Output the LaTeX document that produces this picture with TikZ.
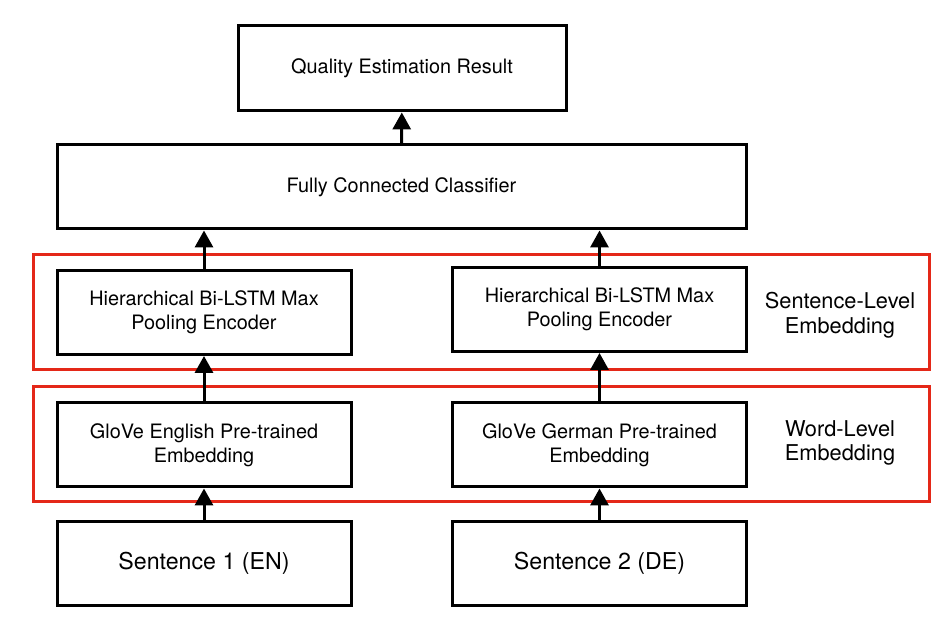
\documentclass[tikz,border=0pt]{standalone}
\usepackage{fontspec}
\setmainfont{TeX Gyre Heros}
\usetikzlibrary{arrows.meta}
\definecolor{frame red}{RGB}{228, 40, 24}

\begin{document}
\begin{tikzpicture}[
	block/.style = {draw, line width = 0.06 cm, minimum height = 1.68 cm, inner sep = 0 pt, align = center, font = \fontsize{11.3}{13.6}\selectfont},
	wide block/.style = {block, minimum width = 5.88 cm},
	input block/.style = {wide block, font = \fontsize{13.2}{15}\selectfont},
	group box/.style = {draw = frame red, line width = 0.06 cm},
	group label/.style = {align = center, font = \fontsize{12.4}{14}\selectfont},
	flow/.style = {line width = 0.06 cm, -{Triangle[length=9.6pt, width=10.2pt]}}
]
	\useasboundingbox (0, 0) rectangle (18.96, 12.54);

	\draw[group box] (0.66, 5.14) rectangle (18.58, 7.44);
	\draw[group box] (0.66, 2.5) rectangle (18.58, 4.8);

	\node[block, minimum width = 6.56 cm, minimum height = 1.7 cm] (result) at (8.04, 11.17) {Quality Estimation Result};
	\node[block, minimum width = 13.78 cm] (classifier) at (8.03, 8.8) {Fully Connected Classifier};

	\node[wide block] (encoderEN) at (4.08, 6.29) {Hierarchical Bi-LSTM Max\\Pooling Encoder};
	\node[wide block] (encoderDE) at (11.99, 6.35) {Hierarchical Bi-LSTM Max\\Pooling Encoder};

	\node[wide block] (gloveEN) at (4.08, 3.64) {GloVe English Pre-trained\\Embedding};
	\node[wide block] (gloveDE) at (11.99, 3.64) {GloVe German Pre-trained\\Embedding};

	\node[input block] (sentEN) at (4.08, 1.27) {Sentence 1 (EN)};
	\node[input block] (sentDE) at (11.99, 1.27) {Sentence 2 (DE)};

	\node[group label] (sentLevel) at (16.8, 6.24) {Sentence-Level\\Embedding};
	\node[group label] (wordLevel) at (16.8, 3.68) {Word-Level\\Embedding};

	\draw[flow] (sentEN) -- (gloveEN);
	\draw[flow] (sentDE) -- (gloveDE);
	\draw[flow] (gloveEN) -- (encoderEN);
	\draw[flow] (gloveDE) -- (encoderDE);
	\draw[flow] (encoderEN.north) -- (encoderEN.north |- classifier.south);
	\draw[flow] (encoderDE.north) -- (encoderDE.north |- classifier.south);
	\draw[flow] (classifier) -- (result);
\end{tikzpicture}
\end{document}
